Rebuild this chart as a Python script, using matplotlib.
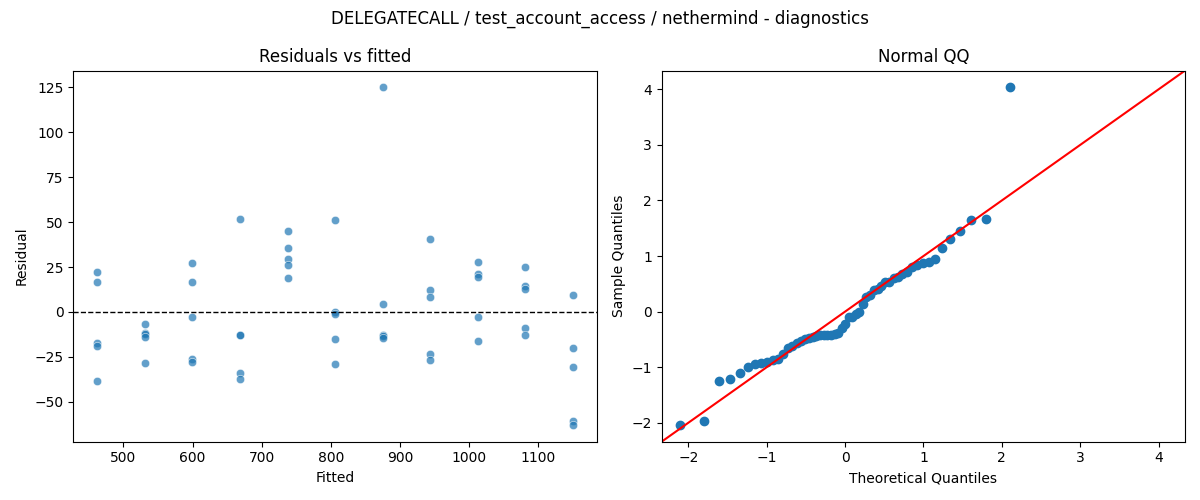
import numpy as np
import matplotlib
matplotlib.use("Agg")
import matplotlib.pyplot as plt
import seaborn as sns
from statistics import NormalDist

fitted_levels = [462.0, 530.8, 599.6, 668.4, 737.2, 806.0, 874.8, 943.6, 1012.4, 1081.2, 1150.0]
residuals_by_level = [
    [22.3, 16.7, -17.5, -18.8, -38.4],
    [-6.5, -11.7, -12.3, -13.9, -28.4],
    [27.4, 16.7, -2.8, -26.0, -27.8],
    [51.7, -12.8, -13.0, -34.0, -37.3],
    [45.1, 35.6, 29.5, 25.9, 18.9],
    [51.2, -0.2, -1.3, -15.0, -28.9],
    [125.0, 4.4, -12.8, -13.5, -14.3],
    [40.6, 12.2, 8.3, -23.4, -26.7],
    [27.8, 20.9, 19.5, -2.8, -16.1],
    [25.0, 14.2, 12.6, -8.9, -12.8],
    [9.5, -20.0, -30.6, -61.0, -62.9],
]

fitted = np.array([f for f, rs in zip(fitted_levels, residuals_by_level) for _ in rs])
resid = np.array([r for rs in residuals_by_level for r in rs])

fig, (ax1, ax2) = plt.subplots(1, 2, figsize=(12, 5), dpi=100)

sns.scatterplot(x=fitted, y=resid, ax=ax1, alpha=0.7)
ax1.axhline(0, color="black", linestyle="--", linewidth=1)
ax1.set_title("Residuals vs fitted")
ax1.set_xlabel("Fitted")
ax1.set_ylabel("Residual")

n = len(resid)
z = (resid - resid.mean()) / resid.std()
sample_q = np.sort(z)
theo_q = np.array([NormalDist().inv_cdf(i / (n + 1)) for i in range(1, n + 1)])
ax2.plot(theo_q, sample_q, marker="o", linestyle="none",
         markerfacecolor="C0", markeredgecolor="C0")
ax2.set_xlabel("Theoretical Quantiles")
ax2.set_ylabel("Sample Quantiles")
xl = ax2.get_xlim(); yl = ax2.get_ylim()
lo = min(xl[0], yl[0]); hi = max(xl[1], yl[1])
ax2.plot([lo, hi], [lo, hi], color="r")
ax2.set_xlim(lo, hi); ax2.set_ylim(lo, hi)
ax2.set_title("Normal QQ")

fig.suptitle("DELEGATECALL / test_account_access / nethermind - diagnostics")
fig.tight_layout()
fig.savefig("out.png")
